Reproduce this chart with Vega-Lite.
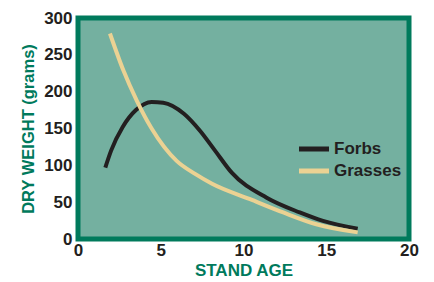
{
  "$schema": "https://vega.github.io/schema/vega-lite/v6.json",
  "width": 331,
  "height": 221,
  "autosize": "none",
  "padding": {"left": 78, "top": 18, "right": 25, "bottom": 43},
  "background": "white",
  "config": {
    "view": {"fill": "#74b0a0", "stroke": "#007a5c", "strokeWidth": 5},
    "font": "Liberation Sans"
  },
  "data": {
    "values": [
      {"age": 1.65, "weight": 97, "type": "Forbs"},
      {"age": 2.0, "weight": 120, "type": "Forbs"},
      {"age": 2.7, "weight": 152, "type": "Forbs"},
      {"age": 3.5, "weight": 175, "type": "Forbs"},
      {"age": 4.45, "weight": 186, "type": "Forbs"},
      {"age": 5.15, "weight": 185, "type": "Forbs"},
      {"age": 6.4, "weight": 170, "type": "Forbs"},
      {"age": 7.37, "weight": 147, "type": "Forbs"},
      {"age": 8.28, "weight": 120, "type": "Forbs"},
      {"age": 9.29, "weight": 90, "type": "Forbs"},
      {"age": 11.4, "weight": 56, "type": "Forbs"},
      {"age": 13.4, "weight": 36, "type": "Forbs"},
      {"age": 14.8, "weight": 24.5, "type": "Forbs"},
      {"age": 16.9, "weight": 14, "type": "Forbs"},
      {"age": 1.93, "weight": 279, "type": "Grasses"},
      {"age": 2.74, "weight": 229, "type": "Grasses"},
      {"age": 3.55, "weight": 188, "type": "Grasses"},
      {"age": 4.45, "weight": 150, "type": "Grasses"},
      {"age": 5.96, "weight": 106, "type": "Grasses"},
      {"age": 7.1, "weight": 88, "type": "Grasses"},
      {"age": 8.1, "weight": 75, "type": "Grasses"},
      {"age": 10.4, "weight": 54, "type": "Grasses"},
      {"age": 12.4, "weight": 36, "type": "Grasses"},
      {"age": 14.4, "weight": 20, "type": "Grasses"},
      {"age": 16.9, "weight": 9, "type": "Grasses"}
    ]
  },
  "mark": {"type": "line", "interpolate": "monotone", "strokeWidth": 4, "strokeCap": "butt"},
  "encoding": {
    "x": {
      "field": "age", "type": "quantitative",
      "scale": {"domain": [0, 20], "nice": false},
      "axis": {
        "title": "STAND AGE", "values": [0, 5, 10, 15, 20], "grid": false, "ticks": false, "domain": false,
        "labelFont": "Liberation Sans", "labelFontSize": 17, "labelFontWeight": "bold", "labelColor": "#231f20",
        "labelPadding": 3, "labelFlush": false,
        "titleFont": "Liberation Sans", "titleFontSize": 17, "titleFontWeight": "bold", "titleColor": "#007a5c", "titlePadding": 4
      }
    },
    "y": {
      "field": "weight", "type": "quantitative",
      "scale": {"domain": [0, 300], "nice": false},
      "axis": {
        "title": "DRY WEIGHT (grams)", "values": [0, 50, 100, 150, 200, 250, 300], "grid": false, "ticks": false, "domain": false,
        "labelFont": "Liberation Sans", "labelFontSize": 17, "labelFontWeight": "bold", "labelColor": "#231f20",
        "labelPadding": 6, "labelFlush": false,
        "titleFont": "Liberation Sans", "titleFontSize": 16.5, "titleFontWeight": "bold", "titleColor": "#007a5c", "titlePadding": 7
      }
    },
    "color": {
      "field": "type", "type": "nominal",
      "scale": {"domain": ["Forbs", "Grasses"], "range": ["#231f20", "#ebd293"]},
      "legend": {
        "title": null, "orient": "none", "legendX": 224, "legendY": 119,
        "symbolType": "M-1.58,0H1.58", "symbolStrokeWidth": 5, "symbolSize": 361,
        "labelFont": "Liberation Sans", "labelFontSize": 17, "labelFontWeight": "bold", "labelColor": "#231f20",
        "labelOffset": 8, "rowPadding": -3
      }
    }
  }
}
